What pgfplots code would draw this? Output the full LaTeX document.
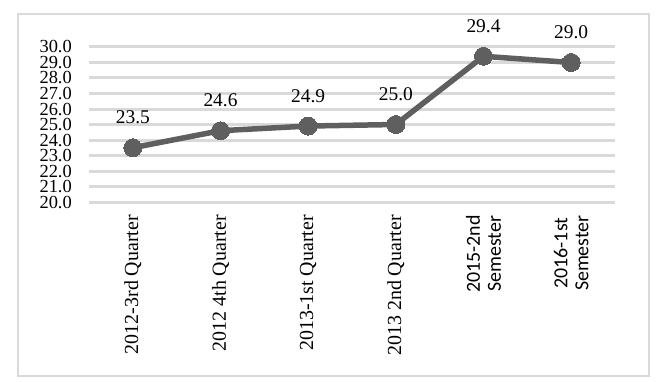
\documentclass[border=0pt]{standalone}
\usepackage{pgfplots}
\pgfplotsset{compat=1.18}
\usepackage{fontspec}
\setmainfont{Liberation Serif}
\newfontfamily\sansf{Carlito}
\definecolor{linec}{HTML}{5F5F5F}
\definecolor{gridc}{HTML}{D9D9D9}
\begin{document}
\begin{tikzpicture}[x=1bp,y=1bp]
\path[use as bounding box] (0,0) rectangle (658,381);
\draw[line width=2.5bp, color=gridc] (18,5) rectangle (649,367);
\begin{axis}[
  at={(89bp,179bp)}, anchor=south west,
  scale only axis, width=526bp, height=155bp,
  xmin=-0.5, xmax=5.5, ymin=20, ymax=30,
  axis line style={draw=none}, major tick style={draw=none},
  ytick={20,21,...,30},
  ymajorgrids, grid style={line width=3bp, color=gridc},
  clip=false,
  /pgf/number format/assume math mode=true,
  yticklabel={\pgfmathprintnumber[fixed,zerofill,precision=1]{\tick}},
  yticklabel style={font=\fontsize{18.5}{18.5}\selectfont, anchor=east, inner sep=0pt, text height=12bp, text depth=0bp},
  yticklabel shift=17bp,
  xtick={0,...,5},
  xticklabels={{2012-3rd Quarter},{2012 4th Quarter},{2013-1st Quarter},{2013 2nd Quarter},{\sansf 2015-2nd\\\sansf Semester},{\sansf 2016-1st\\\sansf Semester}},
  xticklabel style={font=\fontsize{20}{21}\selectfont, rotate=90, anchor=east, inner sep=0pt, align=center},
  xticklabel shift=13bp,
]
\addplot[color=linec, line width=5.5bp, mark=*, mark size=9bp, mark options={fill=linec, draw=linec, line width=0pt},
  nodes near coords={\pgfmathprintnumber[fixed,zerofill,precision=1]{\pgfplotspointmeta}},
  every node near coord/.append style={font=\fontsize{19.5}{19.5}\selectfont, color=black, anchor=base, inner sep=0pt, yshift=24bp}]
coordinates {(0,23.5) (1,24.6) (2,24.9) (3,25.0) (4,29.4) (5,29.0)};
\end{axis}
\end{tikzpicture}
\end{document}
